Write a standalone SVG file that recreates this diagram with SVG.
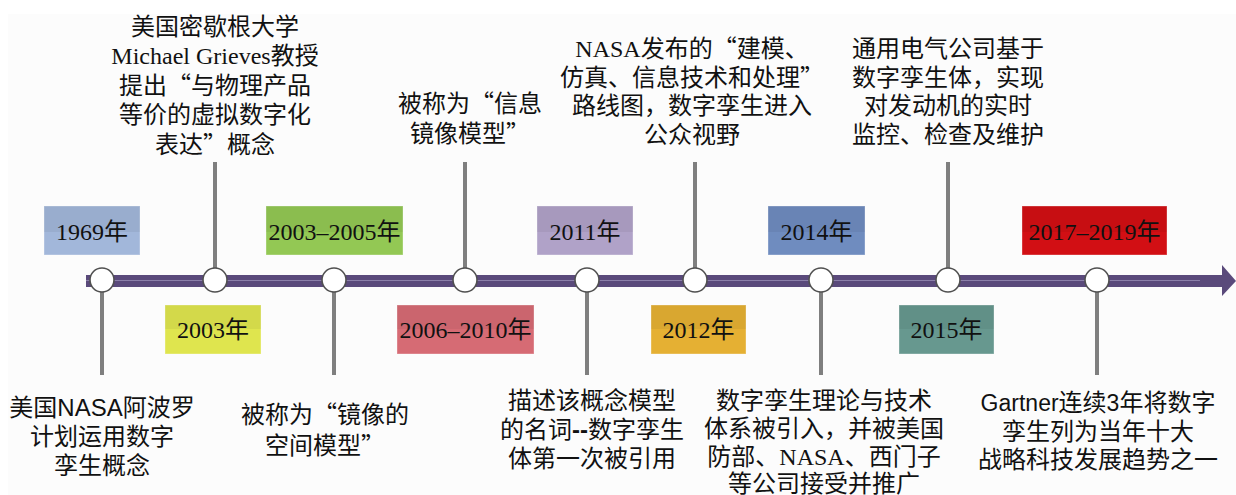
<svg xmlns="http://www.w3.org/2000/svg" width="1236" height="495" viewBox="0 0 1236 495">
<style>
.t{font-family:"Liberation Serif","Noto Sans CJK SC",serif;font-size:24px;fill:#111;text-anchor:middle}
.d{font-family:"Liberation Serif","Noto Sans CJK SC",serif;font-size:24px;fill:#111;text-anchor:middle}
.q{font-family:"Noto Sans CJK SC",sans-serif}
.s{font-family:"Liberation Sans",sans-serif}
.stem{stroke:#7f7f7f;stroke-width:4;fill:none}
.dot{fill:#fff;stroke:#505050;stroke-width:1.6}
.shade{fill:#000;opacity:0.05}
.box{stroke:#fff;stroke-opacity:0.35;stroke-width:1}
</style>
<rect x="0" y="0" width="1236" height="495" fill="#fff"/>
<rect x="8" y="14" width="1228" height="481" fill="#fcfcfc"/>

<g id="connectors">
<line class="stem" x1="215" y1="162" x2="215" y2="270"/>
<line class="stem" x1="465" y1="162" x2="465" y2="270"/>
<line class="stem" x1="695" y1="162" x2="695" y2="270"/>
<line class="stem" x1="948" y1="162" x2="948" y2="270"/>
<line class="stem" x1="102" y1="292" x2="102" y2="375"/>
<line class="stem" x1="334" y1="292" x2="334" y2="375"/>
<line class="stem" x1="587" y1="292" x2="587" y2="375"/>
<line class="stem" x1="821" y1="292" x2="821" y2="375"/>
<line class="stem" x1="1097" y1="292" x2="1097" y2="375"/>
</g>

<g id="timeline">
<rect x="86" y="275" width="1138" height="12" fill="#5a4a7b"/>
<line x1="86" y1="280.5" x2="1200" y2="280.5" stroke="#8c80aa" stroke-width="1.2"/>
<polygon points="1222,265 1236,281 1222,296" fill="#5a4a7b"/>
</g>

<g id="dots">
<circle class="dot" cx="102" cy="280" r="12"/>
<circle class="dot" cx="215" cy="280" r="12"/>
<circle class="dot" cx="334" cy="280" r="12"/>
<circle class="dot" cx="465" cy="280" r="12"/>
<circle class="dot" cx="587" cy="280" r="12"/>
<circle class="dot" cx="695" cy="280" r="12"/>
<circle class="dot" cx="821" cy="280" r="12"/>
<circle class="dot" cx="948" cy="280" r="12"/>
<circle class="dot" cx="1097" cy="280" r="12"/>
</g>

<g id="y1969"><rect class="box" x="44" y="206" width="96" height="49" fill="#a2b7da"/><rect class="shade" x="44" y="206" width="96" height="26"/><text class="d" x="92" y="240">1969年</text></g>
<g id="y2003"><rect class="box" x="165" y="305" width="96" height="49" fill="#dfe54e"/><rect class="shade" x="165" y="305" width="96" height="24"/><text class="d" x="213" y="338">2003年</text></g>
<g id="y2003-2005"><rect class="box" x="266" y="206" width="137" height="49" fill="#93c854"/><rect class="shade" x="266" y="206" width="137" height="26"/><text class="d" x="334.5" y="240">2003–2005年</text></g>
<g id="y2006-2010"><rect class="box" x="397" y="305" width="137" height="49" fill="#d66b74"/><rect class="shade" x="397" y="305" width="137" height="24"/><text class="d" x="465.5" y="338">2006–2010年</text></g>
<g id="y2011"><rect class="box" x="537" y="206" width="96" height="49" fill="#b0a2c8"/><rect class="shade" x="537" y="206" width="96" height="26"/><text class="d" x="585" y="240">2011年</text></g>
<g id="y2012"><rect class="box" x="651" y="305" width="95" height="49" fill="#e5b033"/><rect class="shade" x="651" y="305" width="95" height="24"/><text class="d" x="698.5" y="338">2012年</text></g>
<g id="y2014"><rect class="box" x="768" y="206" width="97" height="49" fill="#6f8cbf"/><rect class="shade" x="768" y="206" width="97" height="26"/><text class="d" x="816.5" y="240">2014年</text></g>
<g id="y2015"><rect class="box" x="899" y="305" width="95" height="49" fill="#67988f"/><rect class="shade" x="899" y="305" width="95" height="24"/><text class="d" x="946.5" y="338">2015年</text></g>
<g id="y2017-2019"><rect class="box" x="1022" y="206" width="145" height="49" fill="#d20f14"/><rect class="shade" x="1022" y="206" width="145" height="26"/><text class="d" x="1094.5" y="240">2017–2019年</text></g>

<g id="n1969">
<text class="t" x="102" y="416">美国<tspan class="s">NASA</tspan>阿波罗</text>
<text class="t" x="102" y="445">计划运用数字</text>
<text class="t" x="102" y="474">孪生概念</text>
</g>
<g id="n2003">
<text class="t" x="215" y="35">美国密歇根大学</text>
<text class="t" x="215" y="64">Michael Grieves教授</text>
<text class="t" x="215" y="94">提出<tspan class="q">“</tspan>与物理产品</text>
<text class="t" x="215" y="123">等价的虚拟数字化</text>
<text class="t" x="215" y="153">表达<tspan class="q">”</tspan>概念</text>
</g>
<g id="n2003-2005">
<text class="t" x="325" y="423">被称为<tspan class="q">“</tspan>镜像的</text>
<text class="t" x="325" y="454">空间模型<tspan class="q">”</tspan></text>
</g>
<g id="n2006-2010">
<text class="t" x="470" y="112">被称为<tspan class="q">“</tspan>信息</text>
<text class="t" x="470" y="142">镜像模型<tspan class="q">”</tspan></text>
</g>
<g id="n2011">
<text class="t" x="592" y="409">描述该概念模型</text>
<text class="t" x="592" y="438">的名词<tspan class="s" font-weight="bold">--</tspan>数字孪生</text>
<text class="t" x="592" y="467">体第一次被引用</text>
</g>
<g id="n2012">
<text class="t" x="692" y="57">NASA发布的<tspan class="q">“</tspan>建模、</text>
<text class="t" x="692" y="86">仿真、信息技术和处理<tspan class="q">”</tspan></text>
<text class="t" x="692" y="114">路线图，数字孪生进入</text>
<text class="t" x="692" y="143">公众视野</text>
</g>
<g id="n2014">
<text class="t" x="824" y="409">数字孪生理论与技术</text>
<text class="t" x="824" y="437">体系被引入，并被美国</text>
<text class="t" x="824" y="465">防部、NASA、西门子</text>
<text class="t" x="824" y="492">等公司接受并推广</text>
</g>
<g id="n2015">
<text class="t" x="948" y="57">通用电气公司基于</text>
<text class="t" x="948" y="86">数字孪生体，实现</text>
<text class="t" x="948" y="114">对发动机的实时</text>
<text class="t" x="948" y="143">监控、检查及维护</text>
</g>
<g id="n2017-2019">
<text class="t" x="1098" y="411"><tspan class="s" font-size="23">Gartner</tspan>连续<tspan class="s" font-size="23">3</tspan>年将数字</text>
<text class="t" x="1098" y="440">孪生列为当年十大</text>
<text class="t" x="1098" y="468">战略科技发展趋势之一</text>
</g>
</svg>
